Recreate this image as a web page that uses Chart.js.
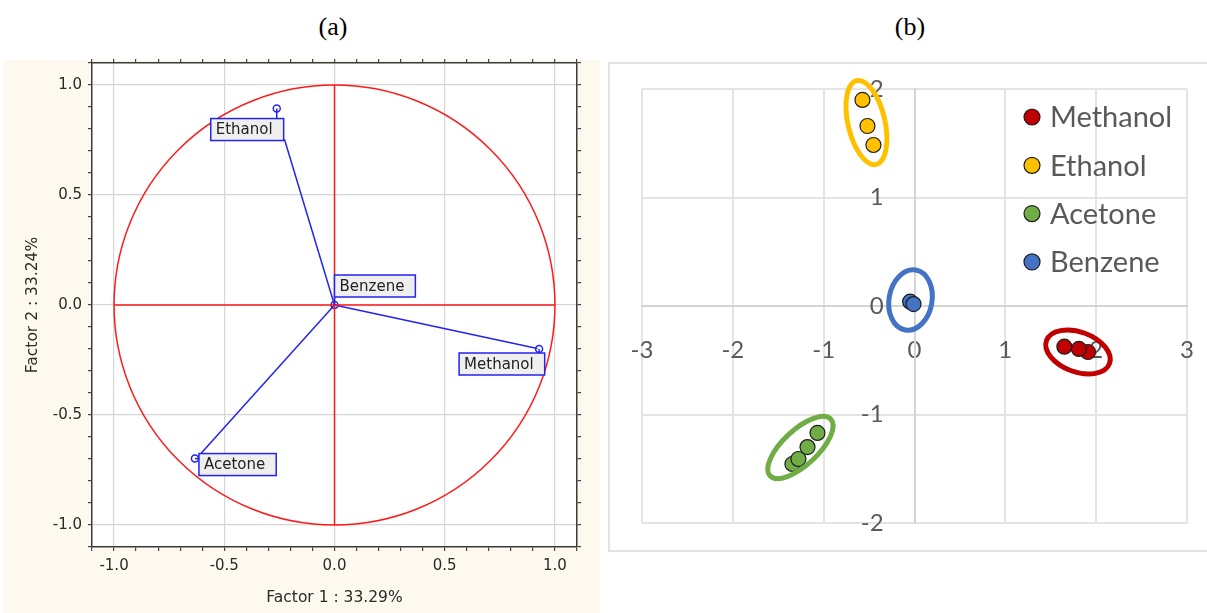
<!DOCTYPE html>
<html>
<head>
<meta charset="utf-8">
<script src="https://cdn.jsdelivr.net/npm/chart.js@4.4.1/dist/chart.umd.min.js"></script>
<style>
  body { margin: 0; width: 1207px; height: 613px; background: #fff; position: relative; overflow: hidden; }
  #creamA { position: absolute; left: 3px; top: 60px; width: 597px; height: 553px; background: #fdf9ee; }
  #frameB { position: absolute; left: 608px; top: 62px; width: 620px; height: 486px; border: 2px solid #e2e2e2; }
  .cap { position: absolute; top: 12px; width: 100px; text-align: center; font: 26px "Liberation Serif", serif; color: #000; }
  canvas { position: absolute; top: 0; }
</style>
</head>
<body>
<div id="creamA"></div>
<div id="frameB"></div>
<div class="cap" style="left:283px">(a)</div>
<div class="cap" style="left:860px">(b)</div>
<canvas id="chartA" width="600" height="613" style="left:0"></canvas>
<canvas id="chartB" width="607" height="613" style="left:600px"></canvas>

<script>
// ---- (a) loadings plot ----
const loadNames = ["Ethanol", "Methanol", "Acetone", "Benzene"];
const loadX = [-0.262, 0.928, -0.633, 0.0];
const loadY = [0.893, -0.200, -0.698, 0.0];
const lineEndX = [-0.227, 0.920, -0.615, 0.0];
const lineEndY = [0.753, -0.198, -0.685, 0.0];
const factorTitles = ["Factor 1 : 33.29%", "Factor 2 : 33.24%"];

// ---- (b) score plot ----
const groupNames = ["Methanol", "Ethanol", "Acetone", "Benzene"];
const groupColors = ["#C00000", "#FFC000", "#70AD47", "#4472C4"];
const methanolX = [1.91, 1.81, 1.65];
const methanolY = [-0.424, -0.396, -0.375];
const ethanolX = [-0.573, -0.518, -0.452];
const ethanolY = [1.899, 1.659, 1.484];
const acetoneX = [-1.344, -1.278, -1.178, -1.068];
const acetoneY = [-1.456, -1.410, -1.300, -1.170];
const benzeneX = [-0.048, -0.011];
const benzeneY = [0.040, 0.018];
// group outlines: centre and two semi-axis vectors, in data units
const clusterCX = [1.800, -0.529, -1.256, -0.044];
const clusterCY = [-0.424, 1.691, -1.304, 0.055];
const clusterUX = [0.347, -0.107, 0.335, 0.058];
const clusterUY = [-0.106, 0.386, 0.261, 0.277];
const clusterVX = [-0.075, 0.198, 0.131, 0.233];
const clusterVY = [-0.173, 0.039, -0.118, -0.034];

const blue = "#2424ee";
const red = "#ff1a1a";

// label box offsets from each marker, px
const labelOffset = [[-66, 10], [-80, 4], [4, -5], [0, -30]];

const isMajor = v => Math.abs(Math.round(v * 10)) % 5 === 0;
const zeroPad = s => { s.paddingLeft = s.paddingRight = s.paddingTop = s.paddingBottom = 0; };

function axisA(pos, size, labels, title, titlePad) {
  return {
    type: "linear", position: pos, min: -1.1, max: 1.1,
    afterFit(s) {
      if (s.isHorizontal()) s.height = size; else s.width = size;
      zeroPad(s);
    },
    border: { color: "#3a3a3a", width: 1.5 },
    grid: {
      drawOnChartArea: labels,
      color: c => isMajor(c.tick.value) ? "#d6d6d6" : "rgba(0,0,0,0)",
      tickColor: "#444", tickLength: 4, lineWidth: 1.2
    },
    ticks: {
      stepSize: 0.1, autoSkip: false, maxRotation: 0, color: "#2a2a2a", padding: 6,
      font: { family: "DejaVu Sans", size: 15 },
      callback: v => labels && isMajor(v) ? (Math.abs(v) < 1e-9 ? "0.0" : v.toFixed(1)) : ""
    },
    title: {
      display: !!title, text: title || "", color: "#2a2a2a",
      font: { family: "DejaVu Sans", size: 15.5 }, padding: titlePad
    }
  };
}

const areaBg = {
  id: "areaBg",
  beforeDraw(chart) {
    const { ctx, chartArea: a } = chart;
    ctx.save();
    ctx.fillStyle = "#fff";
    ctx.fillRect(a.left, a.top, a.width, a.height);
    ctx.restore();
  }
};

const unitCircle = {
  id: "unitCircle",
  beforeDatasetsDraw(chart) {
    const { ctx, scales: { x, y } } = chart;
    const cx = x.getPixelForValue(0), cy = y.getPixelForValue(0);
    ctx.save();
    ctx.beginPath();
    ctx.ellipse(cx, cy, x.getPixelForValue(1) - cx, cy - y.getPixelForValue(1), 0, 0, Math.PI * 2);
    ctx.strokeStyle = red;
    ctx.lineWidth = 1.5;
    ctx.stroke();
    ctx.restore();
  }
};

const varLabels = {
  id: "varLabels",
  afterDatasetsDraw(chart) {
    const { ctx, scales: { x, y } } = chart;
    ctx.save();
    ctx.font = '15px "DejaVu Sans"';
    ctx.textBaseline = "middle";
    loadNames.forEach((name, i) => {
      const px = x.getPixelForValue(loadX[i]), py = y.getPixelForValue(loadY[i]);
      const bx = px + labelOffset[i][0], by = py + labelOffset[i][1];
      const w = ctx.measureText(name).width + 16, h = 22;
      // leader from marker to box
      const lx = Math.min(Math.max(px, bx), bx + w), ly = Math.min(Math.max(py, by), by + h);
      ctx.strokeStyle = blue;
      ctx.lineWidth = 1.5;
      ctx.beginPath(); ctx.moveTo(px, py); ctx.lineTo(lx, ly); ctx.stroke();
      ctx.fillStyle = "#efefef";
      ctx.fillRect(bx, by, w, h);
      ctx.strokeRect(bx, by, w, h);
      ctx.fillStyle = "#222";
      ctx.fillText(name, bx + 5, by + h / 2 + 1);
    });
    ctx.restore();
  }
};

const redLine = { borderColor: red, borderWidth: 1.5, pointRadius: 0, showLine: true };

new Chart(document.getElementById("chartA"), {
  type: "scatter",
  data: {
    datasets: [
      { ...redLine, data: [{ x: -1, y: 0 }, { x: 1, y: 0 }] },
      { ...redLine, data: [{ x: 0, y: 1 }, { x: 0, y: -1 }] },
      ...loadNames.map((n, i) => ({
        label: n, borderColor: blue, borderWidth: 1.5, pointRadius: 0, showLine: true,
        data: [{ x: 0, y: 0 }, { x: lineEndX[i], y: lineEndY[i] }]
      })),
      {
        data: loadX.map((v, i) => ({ x: v, y: loadY[i] })),
        pointRadius: 3.5, borderColor: blue, backgroundColor: "rgba(0,0,0,0)", borderWidth: 1.5
      }
    ]
  },
  options: {
    responsive: false, animation: false, devicePixelRatio: 1, events: [],
    layout: { padding: 0 },
    plugins: { legend: { display: false }, tooltip: { enabled: false } },
    scales: {
      x: axisA("bottom", 66, true, factorTitles[0], { top: 0, bottom: 6 }),
      y: axisA("left", 92, true, factorTitles[1], { top: 24, bottom: 0 }),
      x2: axisA("top", 63, false),
      y2: axisA("right", 23, false)
    }
  },
  plugins: [areaBg, unitCircle, varLabels]
});

// ---- chart (b) ----
const clusterOutlines = {
  id: "clusterOutlines",
  afterDatasetsDraw(chart) {
    const { ctx, scales: { x, y } } = chart;
    ctx.save();
    groupNames.forEach((n, i) => {
      const cx = x.getPixelForValue(clusterCX[i]), cy = y.getPixelForValue(clusterCY[i]);
      const ux = x.getPixelForValue(clusterCX[i] + clusterUX[i]) - cx;
      const uy = y.getPixelForValue(clusterCY[i] + clusterUY[i]) - cy;
      const vx = x.getPixelForValue(clusterCX[i] + clusterVX[i]) - cx;
      const vy = y.getPixelForValue(clusterCY[i] + clusterVY[i]) - cy;
      ctx.save();
      ctx.transform(ux, uy, vx, vy, cx, cy);
      ctx.beginPath();
      ctx.arc(0, 0, 1, 0, Math.PI * 2);
      ctx.restore();
      ctx.strokeStyle = groupColors[i];
      ctx.lineWidth = 5;
      ctx.stroke();
    });
    ctx.restore();
  }
};

const sideLegend = {
  id: "sideLegend",
  afterDraw(chart) {
    const { ctx } = chart;
    ctx.save();
    ctx.font = "29px Lato";
    ctx.textBaseline = "middle";
    chart.data.datasets.forEach((ds, i) => {
      const yy = 117 + i * 48.3;
      ctx.beginPath();
      ctx.arc(432, yy, 8, 0, Math.PI * 2);
      ctx.fillStyle = ds.backgroundColor;
      ctx.fill();
      ctx.lineWidth = 1.2;
      ctx.strokeStyle = "#1e1e1e";
      ctx.stroke();
      ctx.fillStyle = "#595959";
      ctx.fillText(ds.label, 450, yy + 1);
    });
    ctx.restore();
  }
};

const groupX = [methanolX, ethanolX, acetoneX, benzeneX];
const groupY = [methanolY, ethanolY, acetoneY, benzeneY];
const tickFontB = { family: "Lato", size: 24 };

new Chart(document.getElementById("chartB"), {
  type: "scatter",
  data: {
    datasets: groupNames.map((n, i) => ({
      label: n,
      data: groupX[i].map((v, j) => ({ x: v, y: groupY[i][j] })),
      backgroundColor: groupColors[i],
      borderColor: "#1e1e1e",
      borderWidth: 1.2,
      pointRadius: 7.5
    }))
  },
  options: {
    responsive: false, animation: false, devicePixelRatio: 1, events: [],
    layout: { padding: { left: 42, right: 20, top: 89, bottom: 90 } },
    plugins: { legend: { display: false }, tooltip: { enabled: false } },
    scales: {
      x: {
        type: "linear", min: -3, max: 3, position: { y: 0 }, afterFit: zeroPad,
        border: { color: "#d4d4d4", width: 2 },
        grid: { color: "#e4e4e4", lineWidth: 2, drawTicks: false },
        ticks: { stepSize: 1, autoSkip: false, maxRotation: 0, color: "#595959", font: tickFontB, padding: 30 }
      },
      y: {
        type: "linear", min: -2, max: 2, position: { x: 0 }, afterFit: zeroPad,
        border: { color: "#d4d4d4", width: 2 },
        grid: { color: "#e4e4e4", lineWidth: 2, drawTicks: false },
        ticks: { display: false, stepSize: 1 }
      },
      // label-only axis so the y tick labels sit left of the zero line
      yLabels: {
        type: "linear", min: -2, max: 2, position: { x: -0.34 }, afterFit: zeroPad,
        border: { display: false },
        grid: { display: false },
        ticks: { stepSize: 1, autoSkip: false, color: "#595959", font: tickFontB }
      }
    }
  },
  plugins: [clusterOutlines, sideLegend]
});
</script>
</body>
</html>
